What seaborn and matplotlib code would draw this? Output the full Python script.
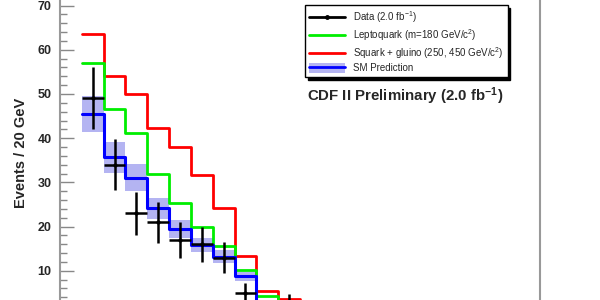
import numpy as np
import pandas as pd
import seaborn as sns
import matplotlib
matplotlib.use("Agg")
import matplotlib.pyplot as plt
from matplotlib.lines import Line2D
from matplotlib.patches import Patch

# bins of 20 GeV (low edges) and contents
bin_lo = [20, 40, 60, 80, 100, 120, 140, 160, 180, 200]
squark = [63.5, 54.1, 50.1, 42.3, 38.1, 31.6, 24.1, 13.3, 5.5, 3.6]
leptoquark = [57.1, 46.7, 41.1, 31.9, 25.4, 19.8, 15.6, 10.1, 4.3, 2.0]
sm_pred = [45.5, 35.7, 31.1, 24.1, 19.5, 15.8, 13.2, 8.8, 2.5, 1.5]
sm_err = [4.0, 3.5, 3.1, 2.4, 2.0, 1.6, 1.4, 1.0, 0.6, 0.4]
data = [49, 34, 23, 21, 17, 16, 13, 5, 1, 3]
data_err = [7.0, 5.8, 4.8, 4.6, 4.1, 4.0, 3.6, 2.2, 1.0, 1.7]

sns.set_theme(style="white")
plt.rcParams["font.family"] = ["Liberation Sans", "DejaVu Sans"]
plt.rcParams["mathtext.default"] = "regular"

width = 20
edges = bin_lo + [bin_lo[-1] + width]
centers = np.array(bin_lo) + width / 2
df = pd.DataFrame({"x": centers, "squark": squark, "lq": leptoquark, "sm": sm_pred})

fig = plt.figure(figsize=(6, 3), dpi=100)
ax = fig.add_axes([0.1, -0.05, 0.8, 1.105])

band_col = "#b4b4f2"
ax.bar(centers, 2 * np.array(sm_err), bottom=np.array(sm_pred) - np.array(sm_err),
       width=width, color=band_col, linewidth=0, zorder=1)

sns.histplot(data=df, x="x", weights="squark", bins=edges, element="step", fill=False,
             color="#ff0000", linewidth=2, ax=ax, zorder=2)
sns.histplot(data=df, x="x", weights="lq", bins=edges, element="step", fill=False,
             color="#00ee00", linewidth=2, ax=ax, zorder=3)
sns.histplot(data=df, x="x", weights="sm", bins=edges, element="step", fill=False,
             color="#0000ff", linewidth=2.2, ax=ax, zorder=4)

ax.errorbar(centers, data, yerr=data_err, xerr=width / 2, fmt="o", ms=2,
            color="black", elinewidth=1.8, capsize=0, zorder=5)

ax.set_xlim(0, 440)
ax.set_ylim(0, 75)
ax.set_xlabel("")
ax.set_ylabel("Events / 20 GeV", fontsize=10.5, fontweight="bold")
ax.yaxis.set_label_coords(-0.067, 0.49)
ax.set_yticks(np.arange(10, 71, 10))
ax.set_yticks(np.arange(0, 75, 2), minor=True)
ax.tick_params(axis="y", which="major", direction="in", length=10, width=1,
               color="#888888", labelsize=9, pad=6, left=True)
ax.tick_params(axis="y", which="minor", direction="in", length=5, width=1,
               color="#888888", left=True)
for lab in ax.get_yticklabels():
    lab.set_fontweight("bold")
ax.tick_params(axis="x", bottom=False, labelbottom=False)
for s in ax.spines.values():
    s.set_color("#999999")
    s.set_linewidth(1.5)

handles = [
    Line2D([], [], color="black", marker="o", ms=2.5, lw=2),
    Line2D([], [], color="#00ee00", lw=2),
    Line2D([], [], color="#ff0000", lw=2),
    (Patch(facecolor=band_col, edgecolor="none"), Line2D([], [], color="#0000ff", lw=2)),
]
labels = [
    "Data (2.0 fb$^{-1}$)",
    "Leptoquark (m=180 GeV/c$^{2}$)",
    "Squark + gluino (250, 450 GeV/c$^{2}$)",
    "SM Prediction",
]
leg = fig.legend(handles, labels, loc="upper left", bbox_to_anchor=(0.509, 0.983),
                 bbox_transform=fig.transFigure, fontsize=7, frameon=True,
                 fancybox=False, edgecolor="black", framealpha=1,
                 shadow={"color": "black", "alpha": 1}, borderaxespad=0,
                 handlelength=3.7, handletextpad=0.8, labelspacing=0.22,
                 borderpad=0.4, handleheight=1.2)
leg.get_frame().set_linewidth(1)

fig.text(0.511, 0.662, "CDF II Preliminary (2.0 fb$^{-1}$)", fontsize=10.8,
         fontweight="bold", va="baseline", ha="left")

fig.savefig("out.png", dpi=100)
